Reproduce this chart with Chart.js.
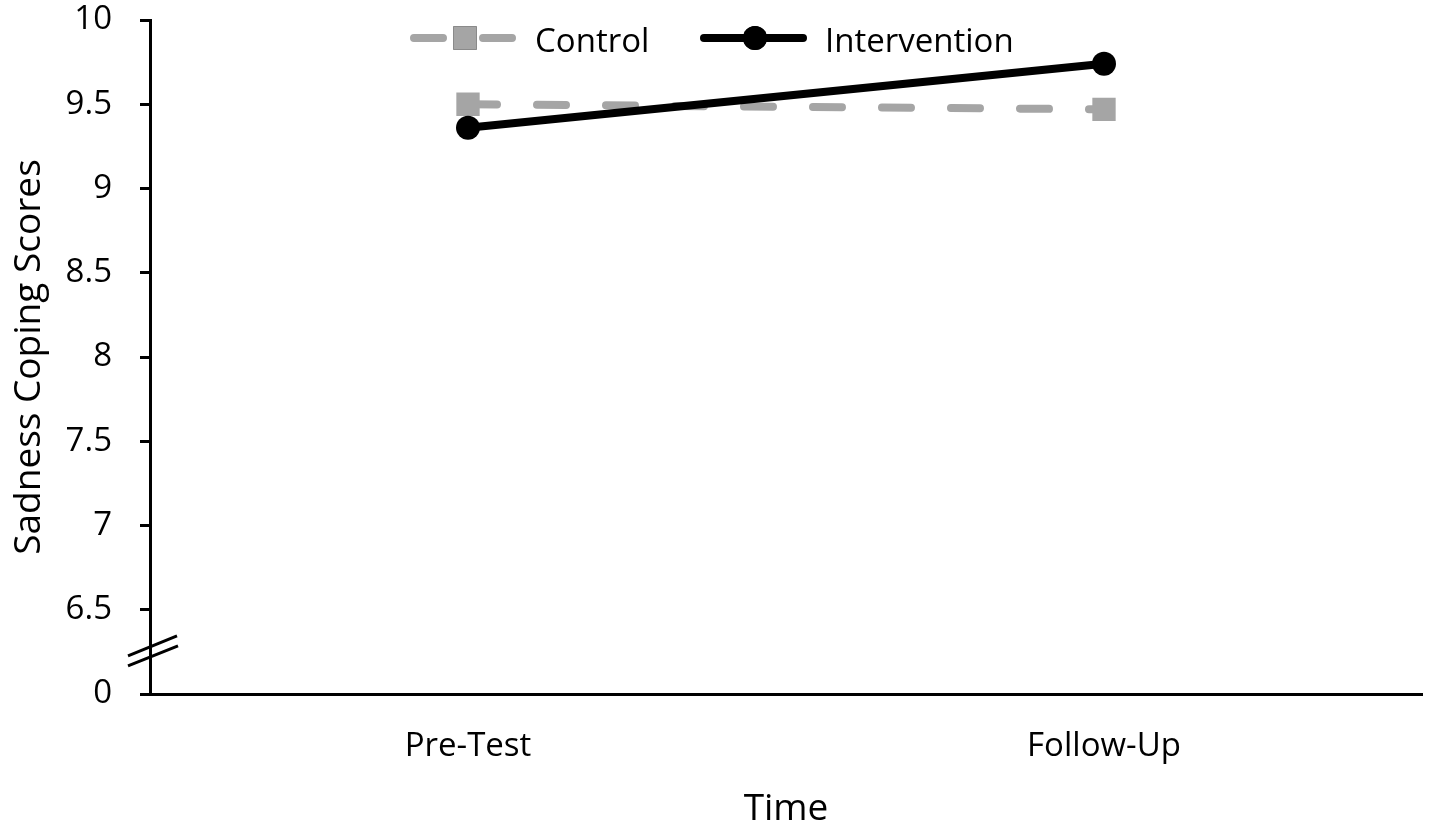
<!DOCTYPE html>
<html>
<head>
<meta charset="utf-8">
<script src="https://cdn.jsdelivr.net/npm/chart.js@4/dist/chart.umd.min.js"></script>
<style>
body{margin:0;background:#fff;overflow:hidden}
#wrap{width:1430px;height:833px}
</style>
</head>
<body>
<div id="wrap"><canvas id="grafik"></canvas></div>
<script>

let waktu=["Pre-Test","Follow-Up"]
let kontrol=[9.5,9.47]
let intervensi=[9.36,9.74]
let tickY=[6,6.5,7,7.5,8,8.5,9,9.5,10]
let labelNol="0"

let abu="#a5a5a5"
let hitam="#000000"
let huruf="'Open Sans'"
let ukuran=33
let ukuranJudul=37



// padding label bawaan dibuang biar area chart pas
function nolPadding(s){
s.paddingTop=0
s.paddingBottom=0
s.paddingLeft=0
s.paddingRight=0
}



let legendaPlugin={
id:"legenda",
afterDraw(chart){

let ctx=chart.ctx
let posisi=[{x:410,teks:535},{x:700,teks:825}]
let yL=38

ctx.save()

chart.data.datasets.forEach((ds,i)=>{

let p=posisi[i]

ctx.strokeStyle=ds.borderColor
ctx.lineWidth=ds.borderWidth
ctx.lineCap="round"
ctx.setLineDash(ds.borderDash||[])
ctx.beginPath()
ctx.moveTo(p.x+4,yL)
ctx.lineTo(p.x+103,yL)
ctx.stroke()
ctx.setLineDash([])

Chart.helpers.drawPoint(ctx,{
pointStyle:ds.pointStyle,
radius:ds.pointRadius,
borderWidth:0,
rotation:0
},p.x+55,yL)

ctx.fillStyle=ds.pointBackgroundColor
ctx.fill()

ctx.fillStyle="#000"
ctx.font=ukuran+"px "+huruf
ctx.textBaseline="middle"
ctx.textAlign="left"
ctx.fillText(ds.label,p.teks,yL+5)

})

ctx.restore()

}
}



let patahPlugin={
id:"patah",
afterDraw(chart){

let ctx=chart.ctx
let sy=chart.scales.y
let x0=sy.right
let yb=sy.getPixelForValue(6.25)

ctx.save()
ctx.strokeStyle="#000"
ctx.lineWidth=3

ctx.beginPath()
ctx.moveTo(x0-22,yb+4)
ctx.lineTo(x0+27,yb-16)
ctx.moveTo(x0-22,yb+14)
ctx.lineTo(x0+28,yb-6)
ctx.stroke()

ctx.restore()

}
}



let ctx=document.getElementById("grafik")

let grafik=new Chart(ctx,{
type:"line",
data:{
labels:waktu,
datasets:[
{
label:"Control",
data:kontrol,
borderColor:abu,
backgroundColor:abu,
pointBackgroundColor:abu,
pointBorderColor:abu,
borderWidth:8,
borderDash:[29,40],
borderCapStyle:"round",
pointStyle:"rect",
pointRadius:16.5,
pointBorderWidth:0,
order:1
},
{
label:"Intervention",
data:intervensi,
borderColor:hitam,
backgroundColor:hitam,
pointBackgroundColor:hitam,
pointBorderColor:hitam,
borderWidth:8,
pointStyle:"circle",
pointRadius:12,
pointBorderWidth:0,
order:0
}
]
},
options:{
responsive:true,
maintainAspectRatio:false,
animation:false,
layout:{
autoPadding:false,
padding:{top:20,right:8,left:0,bottom:0}
},
plugins:{
legend:{display:false},
tooltip:{enabled:false}
},
scales:{
x:{
offset:true,
afterFit(s){
s.height=139
nolPadding(s)
},
grid:{display:false,drawTicks:false},
border:{display:true,color:"#000",width:3},
ticks:{
color:"#000",
padding:33,
font:{family:huruf,size:ukuran}
},
title:{
display:true,
text:"Time",
color:"#000",
font:{family:huruf,size:ukuranJudul},
padding:{top:0,bottom:1}
}
},
y:{
min:6,
max:10,
afterFit(s){
s.width=150
nolPadding(s)
},
afterBuildTicks(s){s.ticks=tickY.map(v=>({value:v}))},
grid:{
drawOnChartArea:false,
drawTicks:true,
tickLength:10,
tickWidth:3,
tickColor:"#000"
},
border:{display:true,color:"#000",width:3},
ticks:{
color:"#000",
padding:28,
font:{family:huruf,size:ukuran},
callback:v=>v==6?labelNol:v
},
title:{
display:true,
text:"Sadness Coping Scores",
color:"#000",
font:{family:huruf,size:ukuranJudul},
padding:{top:7,bottom:0}
}
}
}
},
plugins:[legendaPlugin,patahPlugin]
})

</script>
</body>
</html>
